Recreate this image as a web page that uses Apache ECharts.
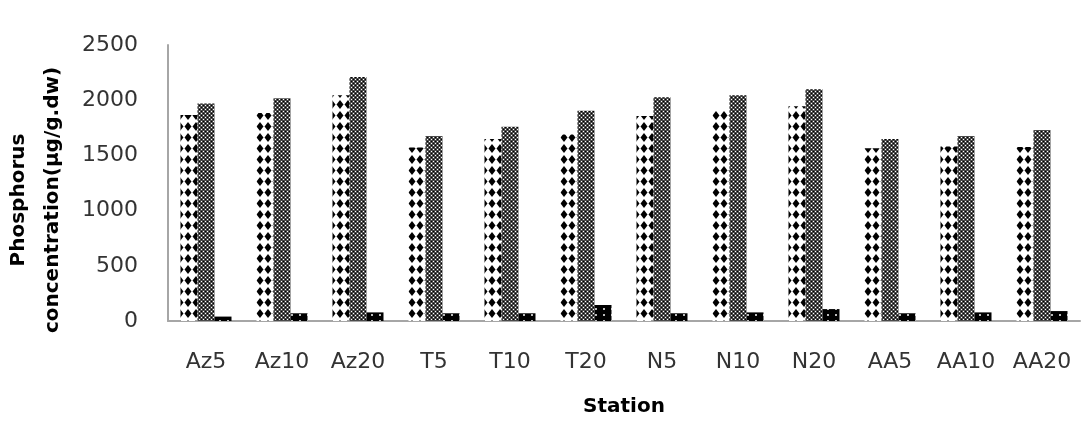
<!DOCTYPE html>
<html>
<head>
<meta charset="utf-8">
<script src="https://cdn.jsdelivr.net/npm/echarts@6/dist/echarts.min.js"></script>
<style>
  html, body { margin: 0; padding: 0; background: #fff; }
  #chart { width: 1090px; height: 432px; }
</style>
</head>
<body>
<div id="chart"></div>
<script>
const stations = ['Az5', 'Az10', 'Az20', 'T5', 'T10', 'T20', 'N5', 'N10', 'N20', 'AA5', 'AA10', 'AA20']
const diamondSeries = [1866, 1885, 2045, 1572, 1648, 1690, 1857, 1915, 1945, 1564, 1580, 1575]
const crossSeries = [1970, 2017, 2210, 1676, 1760, 1905, 2026, 2045, 2099, 1648, 1676, 1730]
const darkSeries = [40, 70, 78, 70, 70, 145, 70, 78, 108, 70, 78, 90]
const yTicks = [0, 500, 1000, 1500, 2000, 2500]

// small canvas tiles used as fill patterns
function tile(w, h, draw) {
  const c = document.createElement('canvas')
  c.width = w
  c.height = h
  draw(c.getContext('2d'))
  return { image: c, repeat: 'repeat' }
}

const diamondFill = tile(8, 11, (g) => {
  g.fillStyle = '#fff'
  g.fillRect(0, 0, 8, 11)
  g.fillStyle = '#000'
  g.beginPath()
  g.moveTo(4, 1)
  g.lineTo(7.5, 5.5)
  g.lineTo(4, 10)
  g.lineTo(0.5, 5.5)
  g.closePath()
  g.fill()
})

const crossFill = tile(4, 4, (g) => {
  g.fillStyle = '#4a4a4a'
  g.fillRect(0, 0, 4, 4)
  g.fillStyle = '#fff'
  g.fillRect(1, 1, 1, 1)
  g.fillRect(3, 3, 1, 1)
  g.fillStyle = '#000'
  g.fillRect(3, 1, 1, 1)
  g.fillRect(1, 3, 1, 1)
})

const darkFill = tile(8, 6, (g) => {
  g.fillStyle = '#000'
  g.fillRect(0, 0, 8, 6)
  g.fillStyle = '#bbb'
  g.fillRect(3, 2, 2, 2)
})

const chart = echarts.init(document.getElementById('chart'))

const opts = {
  animation: false,
  grid: {
    left: 168,
    right: 10,
    top: 45,
    bottom: 111,
    containLabel: false,
    outerBoundsMode: 'none',
  },
  xAxis: {
    type: 'category',
    data: stations,
    name: 'Station',
    nameLocation: 'middle',
    nameGap: 76,
    nameTextStyle: {
      fontFamily: 'DejaVu Sans',
      fontWeight: 'bold',
      fontSize: 20,
      color: '#000',
    },
    axisLine: {
      show: true,
      lineStyle: { color: '#a6a6a6', width: 2 },
    },
    axisTick: { show: false },
    axisLabel: {
      interval: 0,
      fontFamily: 'DejaVu Sans',
      fontSize: 22,
      color: '#333',
      margin: 30,
    },
  },
  yAxis: {
    type: 'value',
    min: yTicks[0],
    max: yTicks[yTicks.length - 1],
    interval: 500,
    name: 'Phosphorus\nconcentration(µg/g.dw)',
    nameLocation: 'middle',
    nameRotate: 90,
    nameGap: 98,
    nameTextStyle: {
      fontFamily: 'DejaVu Sans',
      fontWeight: 'bold',
      fontSize: 20,
      lineHeight: 34,
      color: '#000',
      padding: [0, 34, 0, 0],
    },
    splitLine: { show: false },
    axisTick: { show: false },
    axisLine: {
      show: true,
      lineStyle: { color: '#a6a6a6', width: 2 },
    },
    axisLabel: {
      fontFamily: 'DejaVu Sans',
      fontSize: 22,
      color: '#333',
      margin: 30,
      formatter: (v) => String(v),
    },
  },
  series: [
    {
      type: 'bar',
      data: diamondSeries,
      barWidth: 17,
      barGap: '0%',
      itemStyle: { color: diamondFill },
    },
    {
      type: 'bar',
      data: crossSeries,
      barWidth: 17,
      barGap: '0%',
      itemStyle: { color: crossFill },
    },
    {
      type: 'bar',
      data: darkSeries,
      barWidth: 17,
      barGap: '0%',
      itemStyle: { color: darkFill },
    },
  ],
}

chart.setOption(opts)
</script>
</body>
</html>
